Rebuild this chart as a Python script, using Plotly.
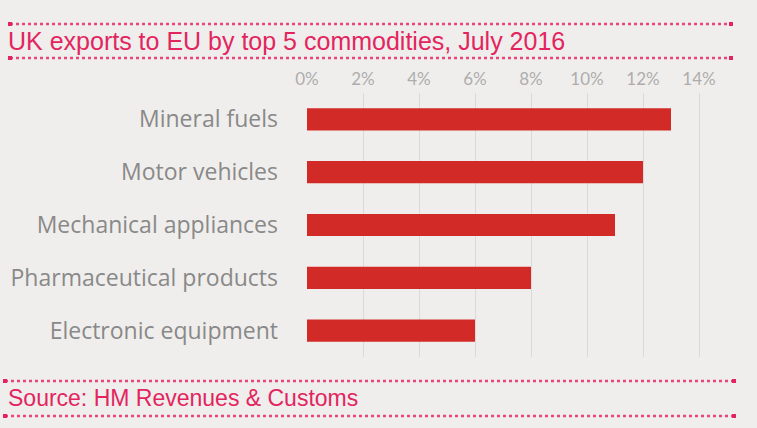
import plotly.graph_objects as go

categories = ["Mineral fuels", "Motor vehicles", "Mechanical appliances",
              "Pharmaceutical products", "Electronic equipment"]
values = [13, 12, 11, 8, 6]
tick_vals = [0, 2, 4, 6, 8, 10, 12, 14]
tick_text = ["0%", "2%", "4%", "6%", "8%", "10%", "12%", "14%"]
title_text = "UK exports to EU by top 5 commodities, July 2016"
source_text = "Source: HM Revenues & Customs"

W, H = 757, 428
L, R, T, B = 307, 713, 93, 357
BG = "#f0eeec"
PINK = "#e2255f"

def px(x):
    return (x - L) / (R - L)

def py(y):
    return (B - y) / (B - T)

fig = go.Figure(go.Bar(
    x=values, y=categories, orientation="h",
    marker=dict(color="#d22b27", line=dict(width=0)),
    width=0.42,
))

shapes = []
for (x0, x1, y) in [(10, 731, 24), (10, 731, 58), (5, 734, 381), (5, 734, 416)]:
    shapes.append(dict(type="line", xref="paper", yref="paper",
                       x0=px(x0), x1=px(x1), y0=py(y), y1=py(y),
                       line=dict(color="#e8457a", width=2.5, dash="dot")))
    for xe in (x0, x1):
        shapes.append(dict(type="rect", xref="paper", yref="paper",
                           x0=px(xe - 2), x1=px(xe + 2), y0=py(y + 2), y1=py(y - 2),
                           line=dict(width=0), fillcolor=PINK))

fig.update_layout(
    width=W, height=H,
    margin=dict(l=L, r=W - R, t=T, b=H - B, pad=0),
    paper_bgcolor=BG, plot_bgcolor=BG,
    showlegend=False,
    bargap=0.58,
    title=dict(text=title_text, x=8 / W, xanchor="left", y=1 - 41 / H, yanchor="middle",
               font=dict(family="Liberation Sans, Arial", size=25, color=PINK)),
    xaxis=dict(side="top", range=[0, 14.5], tickvals=tick_vals, ticktext=tick_text,
               showgrid=True, gridcolor="#dcdad8", gridwidth=1,
               zeroline=False, showline=False, ticks="", ticklabelstandoff=4,
               tickfont=dict(family="Lato, Open Sans", size=17, color="#adadad"),
               fixedrange=True),
    yaxis=dict(autorange="reversed", showgrid=False, zeroline=False, showline=False,
               ticks="", ticklabelstandoff=28,
               tickfont=dict(family="Open Sans, Noto Sans", size=23, color="#898989")),
    shapes=shapes,
    annotations=[dict(text=source_text, xref="paper", yref="paper",
                      x=px(6), y=py(398), xanchor="left", yanchor="middle",
                      showarrow=False,
                      font=dict(family="Liberation Sans, Arial", size=23, color=PINK))],
)

fig.write_html("out.html", config={"displayModeBar": False},
               post_script="document.body.style.margin='0';")
